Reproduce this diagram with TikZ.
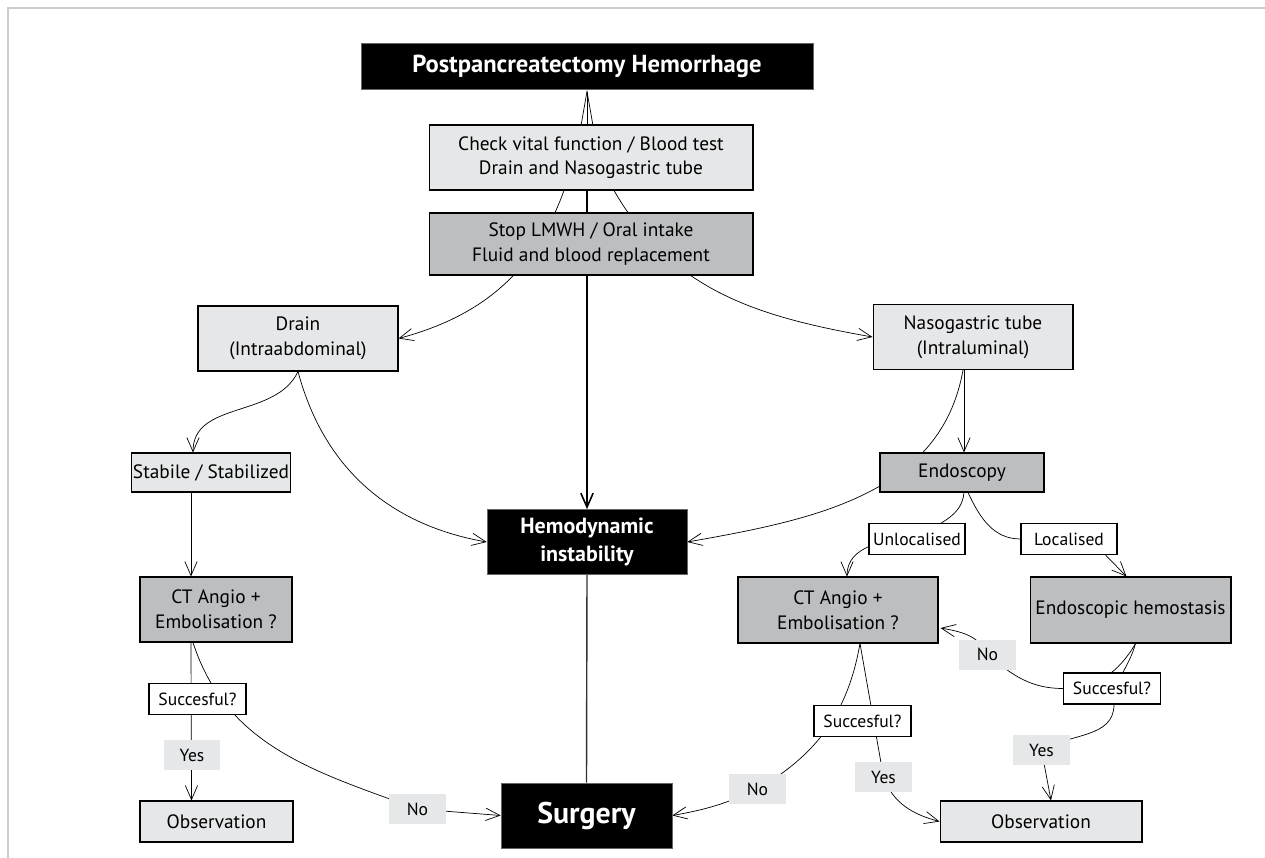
\documentclass[tikz,border=0pt]{standalone}
\usepackage{fontspec}
\setmainfont{PT Sans}
\usetikzlibrary{arrows.meta,calc,backgrounds}
\definecolor{boxlight}{HTML}{E6E7E8}
\definecolor{boxdark}{HTML}{BCBEC0}
\begin{document}
\begin{tikzpicture}[x=0.02cm, y=0.02cm,
  >={Straight Barb[length=8pt,width=7pt]},
  every node/.style = {shape=rectangle, align=center, inner sep=1pt},
  light/.style = {draw, line width=0.6pt, fill=boxlight,
    font=\fontsize{11}{14}\selectfont},
  dark/.style = {light, fill=boxdark},
  alarm/.style = {draw=black!60, fill=black, text=white},
  ask/.style = {draw, line width=0.6pt, fill=white,
    font=\fontsize{10}{12}\selectfont, minimum width=1.94cm, minimum height=0.62cm},
  answer/.style = {fill=boxlight, font=\fontsize{10}{12}\selectfont,
    minimum width=1.14cm, minimum height=0.6cm}
  ]
  \useasboundingbox (0,0) rectangle (1265,-858);
  \draw[black!20, line width=0.6pt] (8,-858) -- (8,-8) -- (1265,-8);

  % top of the chart
  \node[alarm, minimum width=9.04cm, minimum height=0.92cm,
    font=\bfseries\fontsize{14}{16}\selectfont] (pph) at (587,-66) {Postpancreatectomy Hemorrhage};
  \node[light, minimum width=6.48cm, minimum height=1.3cm] (check) at (591,-157.5)
    {Check vital function / Blood test\\Drain and Nasogastric tube};
  \node[dark, minimum width=6.48cm, minimum height=1.24cm] (stop) at (591,-244)
    {Stop LMWH / Oral intake\\Fluid and blood replacement};
  \node[light, minimum width=4cm, minimum height=1.3cm] (drain) at (298,-338.5) {Drain\\(Intraabdominal)};
  \node[light, minimum width=4cm, minimum height=1.3cm] (naso) at (973,-337) {Nasogastric tube\\(Intraluminal)};
  \node[alarm, minimum width=4cm, minimum height=1.3cm,
    font=\bfseries\fontsize{12.5}{15.5}\selectfont] (hemo) at (587,-542) {Hemodynamic\\instability};

  % left branch
  \node[light, minimum width=2.84cm, minimum height=0.78cm] (stab) at (211,-472.5) {Stabile / Stabilized};
  \node[dark, minimum width=3.04cm, minimum height=1.3cm] (ctl) at (216,-609.5) {CT Angio +\\Embolisation ?};
  \node[ask] (sucl) at (197.5,-699) {Succesful?};
  \node[answer] (yesl) at (192,-755) {Yes};
  \node[light, minimum width=3.06cm, minimum height=0.82cm] (obsl) at (216.5,-821.5) {Observation};
  \node[answer] (nol) at (417.5,-809) {No};
  \node[alarm, minimum width=3.42cm, minimum height=1.3cm,
    font=\bfseries\fontsize{17}{20}\selectfont] (surg) at (586.5,-815.5) {Surgery};

  % right branch
  \node[dark, minimum width=3.28cm, minimum height=0.78cm] (endo) at (962,-472.5) {Endoscopy};
  \node[ask, minimum width=1.92cm] (unloc) at (917,-539) {Unlocalised};
  \node[ask, minimum width=1.92cm] (loc) at (1069,-539) {Localised};
  \node[dark, minimum width=4cm, minimum height=1.32cm] (ctr) at (838,-610) {CT Angio +\\Embolisation ?};
  \node[dark, minimum width=4.02cm, minimum height=1.32cm] (endh) at (1130.5,-610) {Endoscopic hemostasis};
  \node[ask] (sucm) at (862.5,-721) {Succesful?};
  \node[answer] (nom) at (757.5,-789) {No};
  \node[answer] (yesm) at (883.5,-777) {Yes};
  \node[ask] (sucr) at (1112,-688.5) {Succesful?};
  \node[answer] (nor) at (987.5,-654.5) {No};
  \node[answer] (yesr) at (1041.5,-750) {Yes};
  \node[light, minimum width=4.04cm, minimum height=0.82cm] (obsr) at (1041,-821.5) {Observation};

  \begin{scope}[on background layer, line width=0.6pt]
    % from the checks
    \draw[-{Straight Barb[length=20pt,width=7pt]}] (check.north -| pph.south) -- (pph.south);
    \draw[->] ($(check.south)+(-27,0)$) to[out=-110,in=15] (drain.east);
    \draw[->] ($(check.south)+(23,0)$) to[out=-60,in=170] (naso.west);
    \draw[->, line width=0.9pt] (check.south -| hemo.north) -- (hemo.north);
    \draw[line width=0.8pt, black!80] (hemo.south) -- (surg.north);
    % left branch
    \draw[->] (drain.south) to[out=-115,in=90] ($(stab.north)+(-18,0)$);
    \draw[->] (drain.south) to[out=-75,in=170] (hemo.west);
    \draw[->] ($(stab.south)+(-20,0)$) -- ($(ctl.north)+(-25,0)$);
    \draw[->] ($(ctl.south)+(-25,0)$) -- ($(obsl.north)+(-25,0)$);
    \draw[->] ($(ctl.south)+(-23,0)$) to[out=-72,in=160] (nol.center) -- (surg.west);
    % right branch
    \draw[->] ($(naso.south)+(-9,0)$) coordinate (n1) -- (n1 |- endo.north);
    \draw[->] ($(naso.south)+(-10,0)$) to[out=-100,in=10] (hemo.east);
    \draw[->] ($(endo.south)+(2,0)$) to[out=-95,in=40] (unloc.center)
      to[out=180,in=90] ($(ctr.north)+(9,0)$);
    \draw ($(endo.south)+(6,0)$) to[out=-65,in=180] (loc.west);
    \draw[->] ($(loc.south east)+(-12,0)$) -- ($(endh.north)+(-4,0)$);
    \draw[->] ($(ctr.south)+(22,0)$) to[out=-100,in=30] (nom.center) to[out=205,in=10] (surg.east);
    \draw[->] ($(ctr.south)+(22,0)$) to[out=-80,in=100] (yesm.center) to[out=-70,in=165] (obsr.west);
    \draw[->] ($(endh.south)+(5,0)$) to[out=-120,in=0] (sucr.west)
      to[out=180,in=-40] (nor.center) to[out=115,in=-10] ($(ctr.east)+(2,-18)$);
    \draw[->] ($(endh.south)+(5,0)$) to[out=-105,in=90] ($(sucr.south)+(2,0)$)
      to[out=-90,in=30] (yesr.center) -- ($(obsr.north)+(10,0)$);
  \end{scope}
\end{tikzpicture}
\end{document}
